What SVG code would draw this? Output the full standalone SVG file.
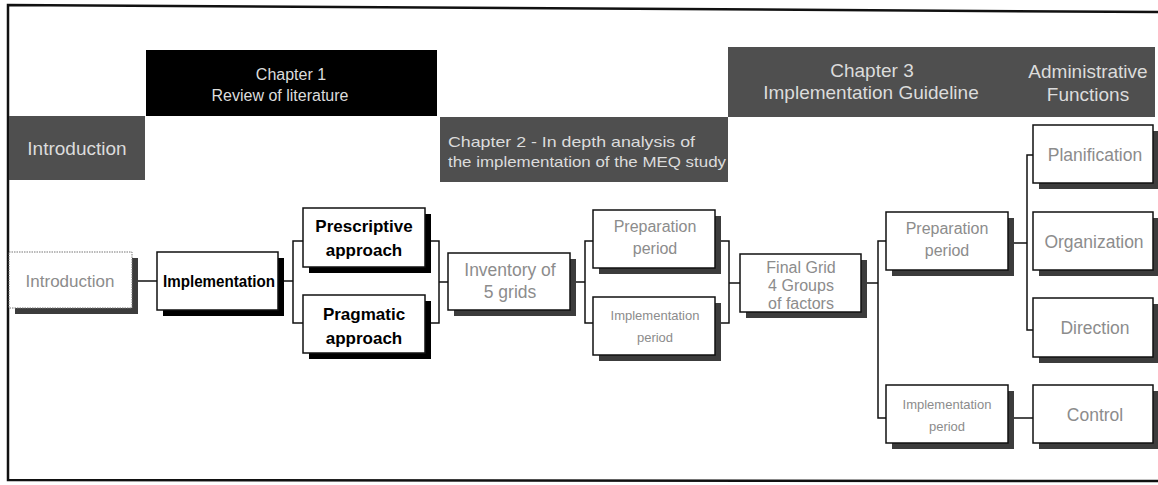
<svg xmlns="http://www.w3.org/2000/svg" width="1158" height="485" viewBox="0 0 1158 485">
  <style>
    .hdr { fill: #4f4f4f; }
    .hdrtxt { font-family: "Liberation Sans", Arial, sans-serif; font-size: 16px; fill: #dcdcdc; text-anchor: middle; }
    .big { font-size: 19px; }
    .box { fill: #ffffff; stroke: #111; stroke-width: 1.5; }
    .shadow { fill: #3c3c3c; }
    .shadowSolid { fill: #000; }
    .lbl { font-family: "Liberation Sans", Arial, sans-serif; font-size: 16px; fill: #8c8c8c; text-anchor: middle; }
    .lblSmall { font-family: "Liberation Sans", Arial, sans-serif; font-size: 13px; fill: #8c8c8c; text-anchor: middle; }
    .lblBold { font-family: "Liberation Sans", Arial, sans-serif; font-size: 17px; font-weight: bold; fill: #000; text-anchor: middle; }
    .conn { fill: none; stroke: #111; stroke-width: 1.5; }
  </style>

  <rect width="1158" height="485" fill="#ffffff"/>

  <!-- outer frame (no right edge) -->
  <path d="M1158,12 L8,5 L8,480 L1158,481" fill="none" stroke="#111" stroke-width="2.5"/>

  <!-- chapter headers -->
  <g id="hdr-introduction">
    <rect class="hdr" x="9" y="116" width="136" height="64"/>
    <text class="hdrtxt big" x="77" y="155">Introduction</text>
  </g>
  <g id="hdr-chapter1">
    <rect x="146" y="50" width="291" height="66" fill="#000"/>
    <text class="hdrtxt" x="291" y="80">Chapter 1</text>
    <text class="hdrtxt" x="280" y="101">Review of literature</text>
  </g>
  <g id="hdr-chapter2">
    <rect class="hdr" x="440" y="117" width="288" height="65"/>
    <text class="hdrtxt" x="448" y="147" style="text-anchor:start;font-size:15px" textLength="247" lengthAdjust="spacingAndGlyphs">Chapter 2 - In depth analysis of</text>
    <text class="hdrtxt" x="448" y="167" style="text-anchor:start;font-size:15px" textLength="278" lengthAdjust="spacingAndGlyphs">the implementation of the MEQ study</text>
  </g>
  <g id="hdr-chapter3">
    <rect class="hdr" x="728" y="47" width="427" height="70"/>
    <text class="hdrtxt big" x="872" y="77">Chapter 3</text>
    <text class="hdrtxt big" x="871" y="99">Implementation Guideline</text>
    <text class="hdrtxt big" x="1088" y="78">Administrative</text>
    <text class="hdrtxt big" x="1088" y="101">Functions</text>
  </g>

  <!-- connectors -->
  <g id="connectors">
    <path class="conn" d="M132,281 H157"/>
    <path class="conn" d="M278,281 H293 M303,241 H293 V323 H303"/>
    <path class="conn" d="M425,241 H439 V323 H425 M439,282 H448"/>
    <path class="conn" d="M570,282 H585 M593,241 H585 V323 H593"/>
    <path class="conn" d="M715,241 H729 V323 H715 M729,283 H740"/>
    <path class="conn" d="M861,283 H878 M886,241 H878 V418 H886"/>
    <path class="conn" d="M1008,243 H1027 M1033,155 H1027 V330 H1033"/>
    <path class="conn" d="M1008,418 H1033"/>
  </g>

  <!-- nodes -->
  <g id="node-introduction">
    <rect class="shadow" x="15" y="258" width="123" height="56"/>
    <rect x="9" y="252" width="123" height="56" fill="#fff" stroke="#777" stroke-width="1" stroke-dasharray="1.5,1"/>
    <text class="lbl" x="70" y="287" style="font-size:17px">Introduction</text>
  </g>
  <g id="node-implementation">
    <rect class="shadowSolid" x="163" y="258" width="121" height="58"/>
    <rect class="box" x="157" y="252" width="121" height="58"/>
    <text class="lblBold" x="219" y="287" style="font-size:16px" textLength="112" lengthAdjust="spacingAndGlyphs">Implementation</text>
  </g>
  <g id="node-prescriptive">
    <rect class="shadowSolid" x="309" y="214" width="122" height="59"/>
    <rect class="box" x="303" y="208" width="122" height="59"/>
    <text class="lblBold" x="364" y="232">Prescriptive</text>
    <text class="lblBold" x="364" y="256">approach</text>
  </g>
  <g id="node-pragmatic">
    <rect class="shadowSolid" x="309" y="301" width="122" height="58"/>
    <rect class="box" x="303" y="295" width="122" height="58"/>
    <text class="lblBold" x="364" y="320">Pragmatic</text>
    <text class="lblBold" x="364" y="344">approach</text>
  </g>
  <g id="node-inventory">
    <rect class="shadow" x="454" y="259" width="122" height="57"/>
    <rect class="box" x="448" y="253" width="122" height="57"/>
    <text class="lbl" x="510" y="276" style="font-size:17.5px">Inventory of</text>
    <text class="lbl" x="510" y="298" style="font-size:17.5px">5 grids</text>
  </g>
  <g id="node-ch2-preparation">
    <rect class="shadow" x="599" y="216" width="122" height="58"/>
    <rect class="box" x="593" y="210" width="122" height="58"/>
    <text class="lbl" x="655" y="232">Preparation</text>
    <text class="lbl" x="655" y="254">period</text>
  </g>
  <g id="node-ch2-implementation">
    <rect class="shadow" x="599" y="303" width="122" height="58"/>
    <rect class="box" x="593" y="297" width="122" height="58"/>
    <text class="lblSmall" x="655" y="320">Implementation</text>
    <text class="lblSmall" x="655" y="342">period</text>
  </g>
  <g id="node-final-grid">
    <rect class="shadow" x="746" y="260" width="121" height="58"/>
    <rect class="box" x="740" y="254" width="121" height="58"/>
    <text class="lbl" x="801" y="273">Final Grid</text>
    <text class="lbl" x="801" y="291">4 Groups</text>
    <text class="lbl" x="801" y="309">of factors</text>
  </g>
  <g id="node-ch3-preparation">
    <rect class="shadow" x="892" y="218" width="122" height="58"/>
    <rect class="box" x="886" y="212" width="122" height="58"/>
    <text class="lbl" x="947" y="234">Preparation</text>
    <text class="lbl" x="947" y="256">period</text>
  </g>
  <g id="node-ch3-implementation">
    <rect class="shadow" x="892" y="391" width="122" height="58"/>
    <rect class="box" x="886" y="385" width="122" height="58"/>
    <text class="lblSmall" x="947" y="409">Implementation</text>
    <text class="lblSmall" x="947" y="431">period</text>
  </g>
  <g id="node-planification">
    <rect class="shadow" x="1039" y="131" width="120" height="58"/>
    <rect class="box" x="1033" y="125" width="120" height="58"/>
    <text class="lbl" x="1095" y="161" style="font-size:17.5px">Planification</text>
  </g>
  <g id="node-organization">
    <rect class="shadow" x="1039" y="218" width="120" height="58"/>
    <rect class="box" x="1033" y="212" width="120" height="58"/>
    <text class="lbl" x="1094" y="248" style="font-size:17.5px">Organization</text>
  </g>
  <g id="node-direction">
    <rect class="shadow" x="1039" y="304" width="120" height="59"/>
    <rect class="box" x="1033" y="298" width="120" height="59"/>
    <text class="lbl" x="1095" y="334" style="font-size:17.5px">Direction</text>
  </g>
  <g id="node-control">
    <rect class="shadow" x="1039" y="391" width="120" height="58"/>
    <rect class="box" x="1033" y="385" width="120" height="58"/>
    <text class="lbl" x="1095" y="421" style="font-size:17.5px">Control</text>
  </g>
</svg>
